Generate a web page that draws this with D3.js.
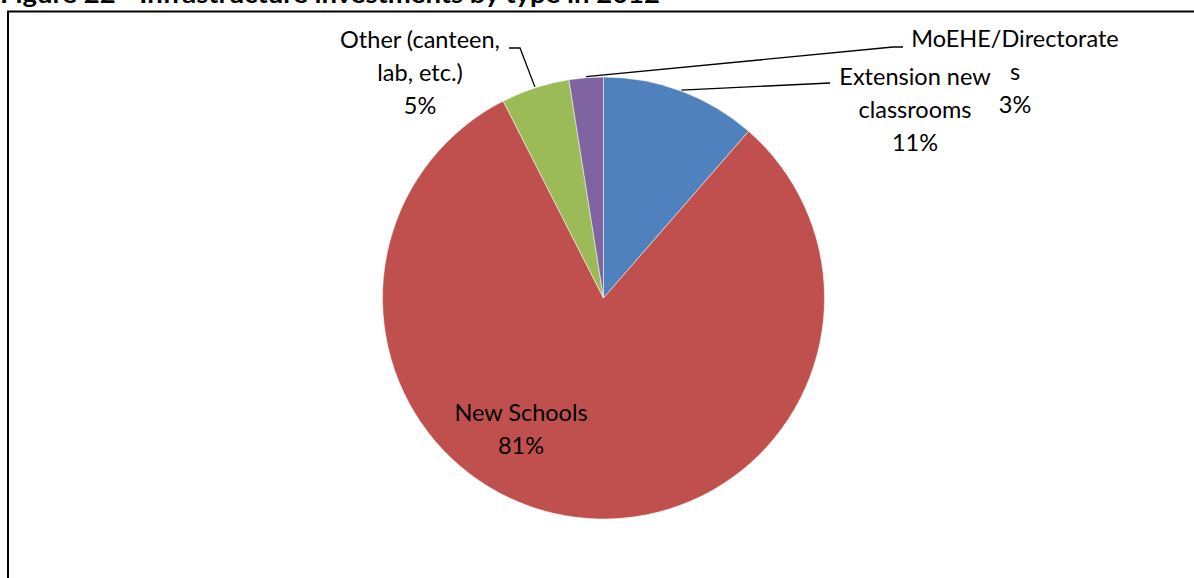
<!DOCTYPE html>
<html><head><meta charset="utf-8">
<script src="https://cdn.jsdelivr.net/npm/d3@7"></script>
<style>body{margin:0;background:#fff;}svg{display:block;font-family:Lato,"Open Sans",sans-serif;}</style>
</head><body>
<script>
const categories = ["Extension new classrooms", "New Schools", "Other (canteen, lab, etc.)", "MoEHE/Directorates"];
const values = [11.4, 81.1, 5.0, 2.5];
const pctLabels = ["11%", "81%", "5%", "3%"];
const colors = ["#4F81BD", "#C0504D", "#9BBB59", "#8064A2"];
const title = "Figure 22 - Infrastructure investments by type in 2012";

const W = 1194, H = 578;
const svg = d3.select("body").append("svg").attr("width", W).attr("height", H);

svg.append("text").attr("x", 0).attr("y", 3).attr("font-weight", "bold").attr("font-size", 25)
  .attr("textLength", 660).attr("lengthAdjust", "spacingAndGlyphs")
  .attr("font-family", "Lato, sans-serif").text(title);

svg.append("rect").attr("x", 8).attr("y", 11.5).attr("width", 1300).attr("height", 700)
  .attr("fill", "none").attr("stroke", "#000").attr("stroke-width", 2);

const cx = 603.5, cy = 298, r = 221;
const data = categories.map((c, i) => ({cat: c, v: values[i], pct: pctLabels[i], color: colors[i]}));
const pie = d3.pie().value(d => d.v).sort(null);
const arc = d3.arc().innerRadius(0).outerRadius(r);
const arcs = pie(data);
const g = svg.append("g").attr("transform", `translate(${cx},${cy})`);
g.selectAll("path").data(arcs).join("path").attr("d", arc).attr("fill", d => d.data.color)
  .attr("stroke", "#fff").attr("stroke-width", 0.5);

// leader lines
const leaders = [
  {i: 0, pts: [[830, 83]]},
  {i: 2, pts: [[520, 48], [509, 48]]},
  {i: 3, pts: [[893, 47], [903, 47]]}
];
leaders.forEach(l => {
  const a = arcs[l.i];
  const mid = (a.startAngle + a.endAngle) / 2;
  const start = [cx + Math.sin(mid) * (r + 1), cy - Math.cos(mid) * (r + 1)];
  svg.append("path").attr("d", d3.line()([start, ...l.pts])).attr("fill", "none")
    .attr("stroke", "#000").attr("stroke-width", 1.3);
});

const labels = [
  {i: 0, x: 915, lines: ["Extension new", "classrooms", pctLabels[0]], y0: 85},
  {i: 1, x: 521, lines: ["New Schools", pctLabels[1]], y0: 421},
  {i: 2, x: 420, lines: ["Other (canteen,", "lab, etc.)", pctLabels[2]], y0: 48},
  {i: 3, x: 1015, lines: ["MoEHE/Directorate", "s", pctLabels[3]], y0: 47}
];
labels.forEach(L => {
  const t = svg.append("text").attr("text-anchor", "middle").attr("font-size", 23.5).attr("fill", "#000");
  L.lines.forEach((s, k) => t.append("tspan").attr("x", L.x).attr("y", L.y0 + k * 33).text(s));
});
</script>
</body></html>
